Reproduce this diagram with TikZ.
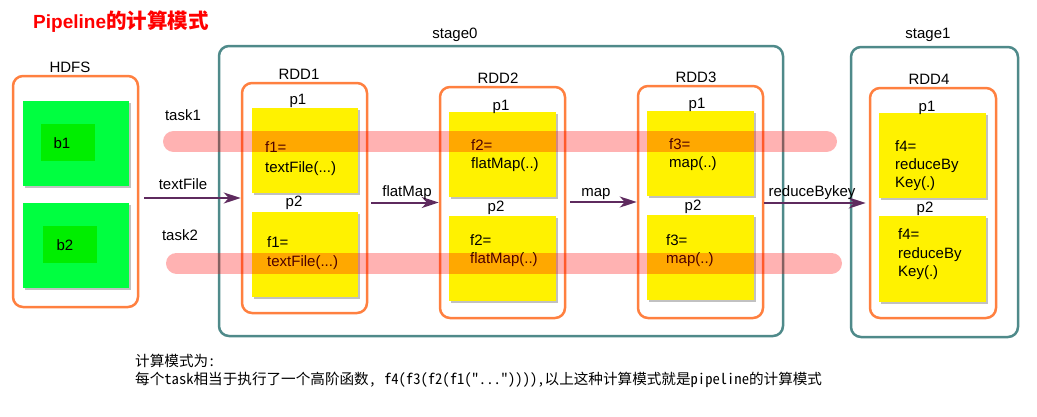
\documentclass[tikz,border=0pt]{standalone}
\usepackage{fontspec}
\setmainfont{Liberation Sans}
\newfontfamily\cjk{Noto Sans CJK SC}
\newfontfamily\cjkhw[RawFeature=+hwid]{Noto Sans CJK SC}
\usetikzlibrary{arrows.meta,shadows,fit}
\definecolor{orng}{HTML}{FF8040}
\definecolor{tealc}{HTML}{4F8A8A}
\definecolor{grn}{HTML}{00FF40}
\definecolor{grnb}{HTML}{00EE00}
\definecolor{arrc}{HTML}{5E2A5E}
\begin{document}
\begin{tikzpicture}[x=1pt,y=-1pt,
  lbl/.style={font=\fontsize{15}{17}\selectfont, inner sep=0pt, anchor=base},
  ftxt/.style={font=\fontsize{15}{17}\selectfont, inner sep=0pt, anchor=base west},
  stagebox/.style={draw=tealc, line width=2.5pt, rounded corners=10pt, inner sep=0pt},
  rddbox/.style={draw=orng, line width=2.5pt, rounded corners=10pt, inner sep=0pt},
  part/.style={fill=yellow, inner sep=0pt, drop shadow={shadow xshift=2pt,shadow yshift=-2pt,opacity=0.35,fill=black!70}},
  blk/.style={fill=grn, inner sep=0pt, drop shadow={shadow xshift=2pt,shadow yshift=-2pt,opacity=0.35,fill=black!70}},
  blkin/.style={fill=grnb, inner sep=0pt},
  flow/.style={draw=arrc, line width=2pt, -{Stealth[length=17pt,width=11pt,inset=5pt]}},
  band/.style={draw=red, draw opacity=0.3, line width=21pt, line cap=round},
  note/.style={anchor=base west, inner sep=0pt, font=\cjkhw\fontsize{14.6}{18}\selectfont}
]
\useasboundingbox (0,0) rectangle (1037,416);

% title
\node[anchor=base west, inner sep=0pt, text=red, font=\fontsize{19}{22}\selectfont\bfseries] (title) at (33,28) {Pipeline{\cjk\fontsize{20.5}{22}\selectfont\bfseries 的计算模式}};

% stages
\node[stagebox, fit={(219,46) (783,336)}] (stage0) {};
\node[lbl] (stage0l) at (455,38) {stage0};
\node[stagebox, fit={(851,47) (1018,337)}] (stage1) {};
\node[lbl] (stage1l) at (928,38) {stage1};

% HDFS
\node[rddbox, fit={(13,76) (138,307)}] (hdfs) {};
\node[lbl] (hdfsl) at (70,72) {HDFS};
\node[blk, fit={(23,101) (129,186)}] (b1box) {};
\node[blkin, fit={(41,124) (95,161)}] (b1in) {};
\node[lbl] (b1) at (62,148) {b1};
\node[blk, fit={(23,203) (129,288)}] (b2box) {};
\node[blkin, fit={(43,226) (97,263)}] (b2in) {};
\node[lbl] (b2) at (65,250) {b2};

% RDD1
\node[rddbox, fit={(242,83) (367,313)}] (rdd1) {};
\node[lbl] (rdd1l) at (299,79) {RDD1};
\node[part, fit={(252,108) (358,193)}] (r1p1) {};
\node[part, fit={(252,212) (358,297)}] (r1p2) {};
\node[lbl] (r1p1l) at (298,104) {p1};
\node[lbl] (r1p2l) at (294,206) {p2};
\node[ftxt] (r1a) at (265,152) {f1=};
\node[ftxt] (r1b) at (265,172) {textFile(...)};
\node[ftxt] (r1c) at (267,247) {f1=};
\node[ftxt] (r1d) at (267,266) {textFile(...)};

% RDD2
\node[rddbox, fit={(440,87) (565,318)}] (rdd2) {};
\node[lbl] (rdd2l) at (498,83) {RDD2};
\node[part, fit={(449,112) (556,197)}] (r2p1) {};
\node[part, fit={(449,216) (556,301)}] (r2p2) {};
\node[lbl] (r2p1l) at (501,110) {p1};
\node[lbl] (r2p2l) at (496,211) {p2};
\node[ftxt] (r2a) at (471,150) {f2=};
\node[ftxt] (r2b) at (471,168) {flatMap(..)};
\node[ftxt] (r2c) at (470,245) {f2=};
\node[ftxt] (r2d) at (470,263) {flatMap(..)};

% RDD3
\node[rddbox, fit={(638,86) (763,318)}] (rdd3) {};
\node[lbl] (rdd3l) at (696,82) {RDD3};
\node[part, fit={(647,111) (754,196)}] (r3p1) {};
\node[part, fit={(647,215) (754,300)}] (r3p2) {};
\node[lbl] (r3p1l) at (697,108) {p1};
\node[lbl] (r3p2l) at (693,210) {p2};
\node[ftxt] (r3a) at (669,149) {f3=};
\node[ftxt] (r3b) at (669,167) {map(..)};
\node[ftxt] (r3c) at (666,245) {f3=};
\node[ftxt] (r3d) at (666,263) {map(..)};

% RDD4
\node[rddbox, fit={(870,88) (996,318)}] (rdd4) {};
\node[lbl] (rdd4l) at (929,84) {RDD4};
\node[part, fit={(879,113) (986,198)}] (r4p1) {};
\node[part, fit={(879,216) (986,302)}] (r4p2) {};
\node[lbl] (r4p1l) at (927,111) {p1};
\node[lbl] (r4p2l) at (925,212) {p2};
\node[ftxt] (r4a) at (895,151) {f4=};
\node[ftxt] (r4b) at (895,169) {reduceBy};
\node[ftxt] (r4c) at (895,187) {Key(.)};
\node[ftxt] (r4d) at (898,239) {f4=};
\node[ftxt] (r4e) at (898,258) {reduceBy};
\node[ftxt] (r4f) at (898,276) {Key(.)};

% arrows
\draw[flow] ([xshift=5pt]hdfs.east |- rdd1.west) -- (rdd1.west);
\node[lbl] (textfile) at (183,189) {textFile};
\draw[flow] ([xshift=3pt]rdd1.east |- rdd2.west) -- (rdd2.west);
\node[lbl] (flatmap) at (407,196) {flatMap};
\draw[flow] ([xshift=4pt]rdd2.east |- rdd3.west) -- (rdd3.west);
\node[lbl] (mapl) at (596,196) {map};
\draw[flow] (rdd3.east |- rdd4.west) -- ([xshift=-3pt]rdd4.west);
\node[lbl] (rbk) at (812,196) {reduceBykey};

% task labels and bands
\node[lbl] (task1) at (183,120) {task1};
\node[lbl] (task2) at (180,240) {task2};
\draw[band] (173.5,141.5) -- (826.5,141.5);
\draw[band] (176.5,263) -- (831.5,263);

% bottom text
\node[note] (note1) at (135,366) {计算模式为:};
\node[note] (note2) at (135,384) {每个task相当于执行了一个高阶函数，\hspace{8pt}f4(f3(f2(f1("...")))),以上这种计算模式就是pipeline的计算模式};
\end{tikzpicture}
\end{document}
